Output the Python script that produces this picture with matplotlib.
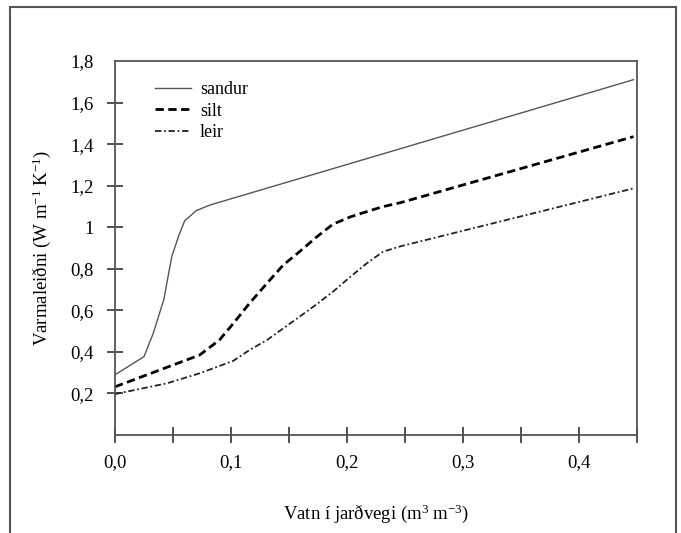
import numpy as np
import matplotlib
import matplotlib.pyplot as plt
from matplotlib.patches import Rectangle
plt.switch_backend('Agg')

plt.rcParams.update({'font.family': 'Liberation Serif',
                     'mathtext.fontset': 'custom',
                     'mathtext.rm': 'Liberation Serif',
                     'mathtext.default': 'regular'})

# values
sandur_x = [0.0, 0.025, 0.033, 0.042, 0.049, 0.055, 0.060, 0.070, 0.082, 0.447]
sandur_y = [0.29, 0.377, 0.49, 0.65, 0.86, 0.96, 1.03, 1.08, 1.107, 1.71]

silt_x = [0.0, 0.073, 0.090, 0.102, 0.116, 0.131, 0.145, 0.159, 0.174, 0.188,
          0.203, 0.217, 0.231, 0.246, 0.447]
silt_y = [0.232, 0.385, 0.457, 0.537, 0.634, 0.73, 0.818, 0.882, 0.954, 1.015,
          1.05, 1.075, 1.099, 1.118, 1.436]

leir_x = [0.0, 0.045, 0.073, 0.102, 0.116, 0.131, 0.145, 0.159, 0.174, 0.188,
          0.203, 0.217, 0.231, 0.246, 0.447]
leir_y = [0.197, 0.249, 0.297, 0.357, 0.409, 0.457, 0.513, 0.569, 0.630, 0.69,
          0.762, 0.826, 0.882, 0.908, 1.187]

x_ticks = [0.0, 0.05, 0.1, 0.15, 0.2, 0.25, 0.3, 0.35, 0.4, 0.45]
x_labels = ['0,0', '', '0,1', '', '0,2', '', '0,3', '', '0,4', '']
y_ticks = [0.2, 0.4, 0.6, 0.8, 1.0, 1.2, 1.4, 1.6, 1.8]
y_labels = ['0,2', '0,4', '0,6', '0,8', '1', '1,2', '1,4', '1,6', '1,8']

fig = plt.figure(figsize=(6.81, 5.33), dpi=100)
ax = fig.add_axes([115/681, 1-435/533, (637-115)/681, (435-61)/533])

# outer frame around the whole picture
fig.patches.append(Rectangle((10/681, -0.05), 666/681, 1.05-7/533,
                             transform=fig.transFigure, fill=False,
                             edgecolor='#555555', linewidth=1.5))

ax.plot(sandur_x, sandur_y, color='#555555', linewidth=1.0, label='sandur')
ax.plot(silt_x, silt_y, color='black', linewidth=2.0, linestyle=(0, (3, 1.6)), label='silt')
ax.plot(leir_x, leir_y, color='#222222', linewidth=1.3,
        linestyle=(0, (3.5, 1.5, 1, 1.5)), label='leir')

ax.set_xlim(0, 0.45)
ax.set_ylim(0, 1.8)
ax.set_xticks(x_ticks)
ax.set_xticklabels(x_labels, fontsize=13.5)
ax.set_yticks(y_ticks)
ax.set_yticklabels(y_labels, fontsize=13.5)
ax.tick_params(axis='x', direction='inout', length=12, width=1.2, color='#333333', pad=8)
ax.tick_params(axis='y', direction='inout', length=11, width=1.2, color='#333333', pad=10)
ax.yaxis.get_major_ticks()[-1].tick1line.set_visible(False)
for s in ax.spines.values():
    s.set_color('#555555')
    s.set_linewidth(1.3)

ax.set_xlabel('Vatn í jarðvegi (m$^{3}$ m$^{-3}$)', fontsize=13.5, labelpad=22)
ax.set_ylabel('Varmaleiðni (W m$^{-1}$ K$^{-1}$)', fontsize=13.5, labelpad=12)

leg = ax.legend(loc='upper left', bbox_to_anchor=(0.045, 0.99), frameon=False,
                fontsize=13, handlelength=2.0, handletextpad=0.5, labelspacing=0.25)

plt.savefig('out.png', dpi=100)
